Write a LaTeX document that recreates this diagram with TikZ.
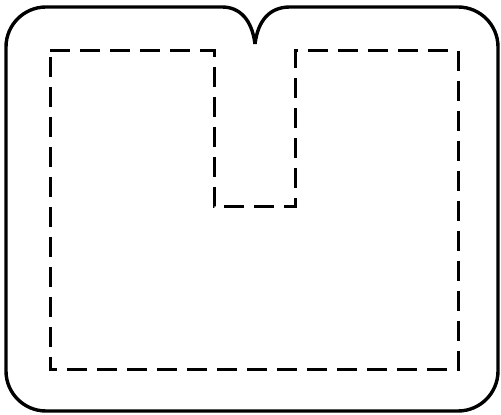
\documentclass[tikz,border=0pt]{standalone}
\usepackage{tikz}

\tikzset{
  outline/.style={line width=3.4pt, line join=round},
  cutline/.style={line width=3pt, dash pattern=on 20pt off 10pt, dash phase=0pt}
}

\begin{document}
\begin{tikzpicture}[x=1pt, y=1pt]
            \useasboundingbox (0,0) rectangle (501,415);

            % outer outline with the notch on top
            \coordinate (cusp) at (255,371);
            \draw[outline] (cusp) .. controls (258,395) and (270,408) .. (290,408)
                -- (458,408) arc[start angle=90, end angle=0, radius=40]
                -- (498,44) arc[start angle=0, end angle=-90, radius=40]
                -- (46,4) arc[start angle=270, end angle=180, radius=40]
                -- (6,368) arc[start angle=180, end angle=90, radius=40]
                -- (222,408) .. controls (240,408) and (252,395) .. (cusp);

            % inner dashed line
            \coordinate (tl) at (50,364);
            \coordinate (nl) at (214,364);
            \coordinate (nbl) at (214,208);
            \coordinate (nbr) at (295,208);
            \coordinate (nr) at (295,364);
            \coordinate (tr) at (458,364);
            \coordinate (br) at (458,45);
            \coordinate (bl) at (50,45);
            \draw[cutline] (tl) -- (nl) -- (nbl) -- (nbr) -- (nr) -- (tr) -- (br) -- (bl) -- cycle;
        \end{tikzpicture}
\end{document}
